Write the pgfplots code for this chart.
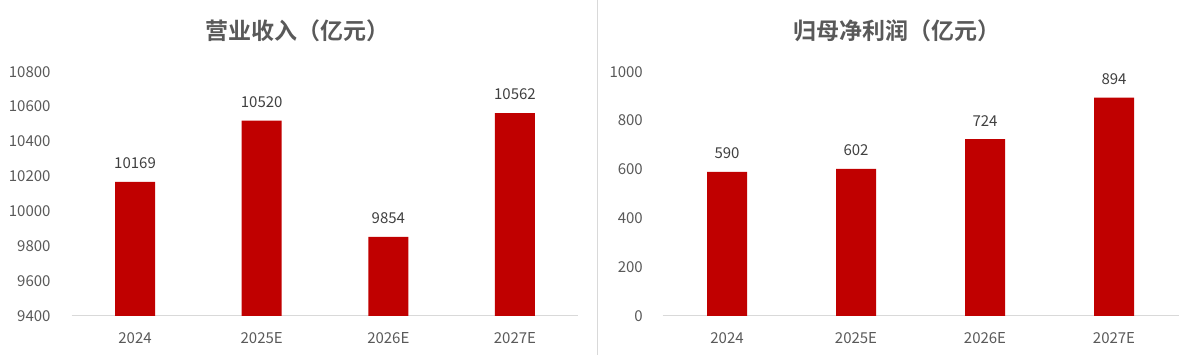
\documentclass[border=0pt]{standalone}
\usepackage{pgfplots}
\pgfplotsset{compat=1.18}
\usepackage{fontspec}
\setmainfont{Noto Sans CJK SC}[BoldFont=* Bold]
\definecolor{barred}{HTML}{C00000}
\definecolor{txtgray}{HTML}{595959}
\definecolor{lblgray}{HTML}{404040}
\definecolor{linegray}{HTML}{D9D9D9}
\begin{document}
\begin{tikzpicture}
\path[use as bounding box] (0pt,0pt) rectangle (1193pt,355pt);
\draw[linegray, line width=1pt] (597pt,0pt) -- (597pt,355pt);
\pgfplotsset{
  mystyle/.style={
    scale only axis,
    height=244.3pt,
    anchor=south west,
    xmin=-0.5, xmax=3.5,
    xtick={0,1,2,3},
    xticklabels={2024,2025E,2026E,2027E},
    axis x line*=bottom,
    axis y line*=left,
    y axis line style={draw=none},
    x axis line style={draw=linegray, line width=1pt, -},
    major tick length=0pt,
    tick label style={font=\fontsize{15}{18}\selectfont, text=txtgray},
    xticklabel style={inner sep=0pt, yshift=-16pt},
    /pgf/number format/assume math mode=true,
    scaled y ticks=false,
    yticklabel style={/pgf/number format/1000 sep={}, inner sep=0pt},
    ybar, bar width=0.316,
    nodes near coords,
    nodes near coords style={font=\fontsize{15}{18}\selectfont, text=lblgray, /pgf/number format/1000 sep={}, yshift=9.5pt},
    clip=false,
  }
}
\begin{axis}[mystyle, at={(71.7pt,39pt)}, width=506.6pt,
  ymin=9400, ymax=10800, ytick={9400,9600,...,10800},
  yticklabel style={xshift=-21pt}]
\addplot[fill=barred, draw=none] coordinates {(0,10169) (1,10520) (2,9854) (3,10562)};
\end{axis}
\begin{axis}[mystyle, at={(662.5pt,39pt)}, width=516pt,
  ymin=0, ymax=1000, ytick={0,200,...,1000},
  yticklabel style={xshift=-19.5pt}, bar width=0.31]
\addplot[fill=barred, draw=none] coordinates {(0,590) (1,602) (2,724) (3,894)};
\end{axis}
\node[text=txtgray, font=\fontsize{23}{27}\selectfont\bfseries] at (297pt,324pt) {营业收入（亿元）};
\node[text=txtgray, font=\fontsize{23}{27}\selectfont\bfseries] at (897pt,324pt) {归母净利润（亿元）};
\end{tikzpicture}
\end{document}
